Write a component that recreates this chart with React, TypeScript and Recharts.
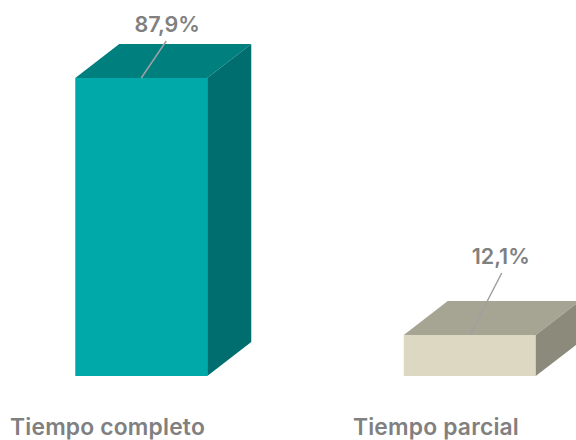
import React from 'react';
import { BarChart, Bar, XAxis, YAxis } from 'recharts';

const categories = ['Tiempo completo', 'Tiempo parcial'];
const shares = [87.9, 12.1];
const shareLabels = ['87,9%', '12,1%'];

const chartData = categories.map((name, i) => ({ name, share: shares[i], label: shareLabels[i] }));

// front, top and side faces of each box
const faces = [
  { front: '#00A9A9', top: '#007F7F', side: '#006E6E' },
  { front: '#DDD8C2', top: '#A6A493', side: '#8C8B7B' },
];
// leader line end and label baseline, relative to the middle of the front top edge
const leaders = [
  { dx: 25, dy: -37, labelDx: 26, labelDy: -46 },
  { dx: 32, dy: -62, labelDx: 31, labelDy: -71 },
];
const DEPTH_X = 44;
const DEPTH_Y = 34;

const Box3D = (props: any) => {
  const { x, y, width, height, index, payload } = props;
  const c = faces[index];
  const l = leaders[index];
  const cx = x + width / 2;
  return (
    <g>
      <rect x={x} y={y} width={width} height={height} fill={c.front} />
      <polygon
        points={`${x},${y} ${x + DEPTH_X},${y - DEPTH_Y} ${x + width + DEPTH_X},${y - DEPTH_Y} ${x + width},${y}`}
        fill={c.top}
      />
      <polygon
        points={`${x + width},${y} ${x + width + DEPTH_X},${y - DEPTH_Y} ${x + width + DEPTH_X},${y + height - DEPTH_Y} ${x + width},${y + height}`}
        fill={c.side}
      />
      <line x1={cx} y1={y} x2={cx + l.dx} y2={y + l.dy} stroke="#A0A0A0" strokeWidth={1.5} />
      <text
        x={cx + l.labelDx}
        y={y + l.labelDy}
        textAnchor="middle"
        fontFamily="Inter, sans-serif"
        fontSize={21.5}
        fontWeight={600}
        fill="#808080"
      >
        {payload.label}
      </text>
    </g>
  );
};

const CategoryTick = (props: any) => {
  const { x, y, payload } = props;
  return (
    <text
      x={x - 34}
      y={y + 51}
      textAnchor="middle"
      fontFamily="Inter, sans-serif"
      fontSize={22.8}
      fontWeight={600}
      letterSpacing={0.2}
      fill="#808080"
    >
      {payload.value}
    </text>
  );
};

export default function App() {
  return (
    <div style={{ position: 'absolute', left: 0, top: 0, width: 576, height: 440, background: '#fff' }}>
      <BarChart
        width={576}
        height={440}
        data={chartData}
        barSize={132}
        margin={{ top: 37, right: -58.25, bottom: 0, left: -22.75 }}
      >
        <XAxis
          dataKey="name"
          height={64}
          axisLine={false}
          tickLine={false}
          interval={0}
          tick={<CategoryTick />}
        />
        <YAxis hide domain={[0, 100]} />
        <Bar dataKey="share" isAnimationActive={false} shape={<Box3D />} />
      </BarChart>
    </div>
  );
}
